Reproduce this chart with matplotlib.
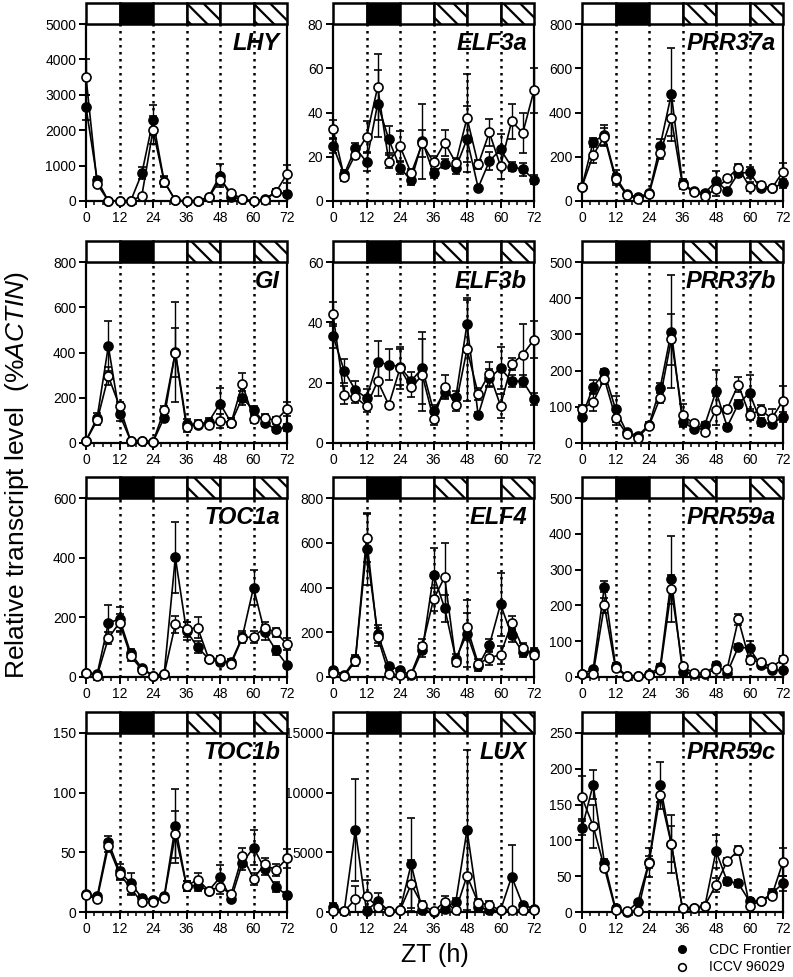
import numpy as np
import matplotlib
matplotlib.use("Agg")
import matplotlib.pyplot as plt
from matplotlib.patches import Rectangle
from matplotlib.lines import Line2D
from matplotlib.ticker import MultipleLocator

plt.rcParams['font.family'] = ['Liberation Sans', 'DejaVu Sans']
plt.rcParams['mathtext.fontset'] = 'custom'
plt.rcParams['mathtext.rm'] = 'Liberation Sans'
plt.rcParams['mathtext.it'] = 'Liberation Sans:italic'
plt.rcParams['hatch.linewidth'] = 1.6

# === DATA (ZT every 4 h) ===
ZT = list(range(0, 73, 4))

LHY_F = [2650, 600, 0, 0, 0, 780, 2280, 550, 20, 0, 0, 120, 720, 100, 50, 0, 50, 260, 200]
LHY_O = [3500, 480, 0, 0, 0, 150, 2000, 550, 20, 0, 0, 100, 600, 230, 50, 0, 30, 250, 760]
LHY_F_ERR = [350, 80, 20, 10, 10, 170, 420, 150, 30, 10, 10, 50, 330, 50, 30, 10, 30, 80, 80]
LHY_O_ERR = [500, 60, 20, 10, 10, 50, 400, 120, 30, 10, 10, 40, 150, 60, 30, 10, 30, 80, 250]

ELF3A_F = [24.8, 12, 24, 17.7, 44, 27.8, 15, 9.3, 27, 12.5, 16.8, 15, 28, 6, 18, 23.3, 15.5, 14.3, 9.7]
ELF3A_O = [32.7, 11, 21, 29, 51.5, 17.7, 24.8, 12.5, 26, 17.5, 26.3, 17.3, 37.5, 16.5, 31, 15.8, 36, 30.8, 50]
ELF3A_F_ERR = [3, 2, 2, 4, 15, 6, 3, 2, 17, 2, 2, 3, 15, 1, 4, 7, 2, 3, 2]
ELF3A_O_ERR = [4, 2, 2, 7, 15, 3, 7, 2, 6, 3, 6, 2, 20, 2, 6, 6, 8, 9, 10]

PRR37A_F = [65, 268, 298, 110, 32, 17, 35, 250, 483, 80, 45, 35, 90, 47, 125, 130, 57, 57, 80]
PRR37A_O = [65, 208, 290, 98, 27, 8, 30, 218, 373, 72, 42, 23, 53, 102, 150, 65, 72, 57, 133]
PRR37A_F_ERR = [10, 15, 45, 30, 8, 5, 8, 30, 210, 20, 8, 8, 45, 8, 15, 25, 10, 10, 20]
PRR37A_O_ERR = [10, 35, 40, 25, 8, 5, 8, 30, 80, 20, 8, 8, 30, 10, 15, 20, 15, 10, 40]

GI_F = [10, 112, 428, 127, 10, 10, 5, 112, 403, 86, 80, 95, 174, 90, 200, 145, 90, 60, 70]
GI_O = [10, 100, 295, 163, 10, 10, 5, 145, 400, 70, 85, 80, 98, 90, 260, 108, 110, 100, 150]
GI_F_ERR = [5, 20, 110, 30, 5, 5, 3, 20, 220, 20, 15, 15, 70, 20, 30, 20, 15, 10, 15]
GI_O_ERR = [5, 20, 40, 20, 5, 5, 3, 20, 110, 20, 15, 15, 30, 20, 50, 20, 20, 15, 30]

ELF3B_F = [35.5, 24, 17.5, 15, 26.8, 26, 25.3, 20.6, 24.8, 10.7, 16.9, 15.2, 39.4, 9.2, 21.4, 24.8, 20.5, 20.5, 14.6]
ELF3B_O = [42.8, 15.8, 15.2, 12.2, 20.5, 12.6, 24.8, 18.4, 22.5, 7.9, 18.6, 12.7, 31, 16.3, 23, 12.4, 26.2, 29.3, 34.3]
ELF3B_F_ERR = [4, 4, 3, 3, 7, 5, 6, 3, 12, 2, 2, 2, 8, 1, 3, 7, 2, 2, 2]
ELF3B_O_ERR = [4, 3, 2, 2, 5, 1, 7, 3, 12, 2, 4, 2, 17, 2, 4, 4, 2, 10, 6]

PRR37B_F = [73, 155, 195, 94, 30, 20, 50, 152, 308, 58, 40, 50, 143, 45, 108, 139, 58, 53, 72]
PRR37B_O = [94, 113, 178, 70, 25, 15, 47, 125, 286, 77, 54, 30, 91, 94, 161, 78, 91, 68, 117]
PRR37B_F_ERR = [10, 20, 10, 35, 5, 5, 8, 15, 157, 15, 8, 8, 60, 8, 10, 50, 10, 8, 15]
PRR37B_O_ERR = [10, 25, 15, 20, 5, 5, 8, 15, 70, 30, 8, 8, 40, 8, 20, 15, 15, 25, 40]

TOC1A_F = [15, 10, 180, 195, 80, 30, 5, 10, 401, 154, 100, 60, 50, 50, 135, 300, 150, 90, 40]
TOC1A_O = [15, 5, 130, 182, 70, 25, 5, 10, 176, 160, 165, 60, 60, 45, 131, 135, 165, 150, 110]
TOC1A_F_ERR = [5, 5, 60, 40, 15, 5, 3, 5, 120, 30, 20, 10, 10, 10, 20, 60, 25, 15, 8]
TOC1A_O_ERR = [5, 5, 20, 30, 15, 5, 3, 5, 30, 25, 35, 10, 10, 10, 15, 20, 20, 15, 20]

ELF4_F = [31, 10, 80, 570, 194, 49, 31, 8, 120, 455, 308, 82, 194, 49, 142, 325, 186, 110, 110]
ELF4_O = [20, 5, 70, 623, 179, 15, 8, 15, 139, 347, 447, 67, 224, 60, 85, 100, 241, 130, 100]
ELF4_F_ERR = [10, 5, 20, 160, 40, 10, 10, 5, 30, 120, 60, 20, 150, 20, 30, 140, 30, 20, 20]
ELF4_O_ERR = [10, 5, 20, 110, 40, 10, 10, 5, 30, 50, 150, 20, 60, 20, 30, 40, 30, 20, 20]

PRR59A_F = [9, 21, 252, 31, 3, 3, 7, 28, 275, 14, 9, 9, 33, 12, 84, 80, 33, 19, 19]
PRR59A_O = [9, 9, 200, 25, 3, 3, 5, 19, 245, 31, 10, 10, 21, 23, 161, 47, 42, 28, 50]
PRR59A_F_ERR = [3, 5, 15, 8, 2, 2, 2, 8, 120, 5, 3, 3, 8, 3, 8, 20, 5, 5, 5]
PRR59A_O_ERR = [3, 3, 20, 8, 2, 2, 2, 5, 40, 5, 3, 3, 5, 5, 15, 10, 5, 5, 10]

TOC1B_F = [15, 13, 59, 34, 24, 12, 10, 13, 72, 22, 22, 18, 29, 11, 41, 54, 36, 21, 14]
TOC1B_O = [14, 11, 55, 32, 20, 8, 8, 12, 65, 22, 27, 18, 21, 15, 47, 28, 40, 35, 45]
TOC1B_F_ERR = [2, 2, 5, 6, 9, 2, 2, 2, 31, 4, 4, 2, 10, 2, 6, 15, 5, 4, 3]
TOC1B_O_ERR = [2, 2, 5, 5, 6, 2, 2, 2, 20, 4, 6, 2, 6, 3, 7, 5, 5, 5, 8]

LUX_F = [430, 60, 6870, 90, 930, 90, 145, 4000, 145, 0, 290, 870, 6870, 430, 145, 145, 2960, 580, 290]
LUX_O = [100, 50, 1070, 1300, 430, 90, 145, 2320, 580, 50, 870, 145, 3040, 780, 580, 145, 145, 145, 200]
LUX_F_ERR = [300, 100, 4250, 300, 700, 100, 100, 3900, 200, 100, 200, 300, 6700, 300, 100, 100, 2650, 200, 150]
LUX_O_ERR = [300, 100, 1100, 1400, 300, 100, 100, 2000, 300, 100, 500, 100, 4000, 300, 300, 100, 100, 100, 150]

PRR59C_F = [117, 178, 69, 5, 0, 14, 70, 177, 95, 5, 6, 8, 85, 43, 40, 15, 15, 26, 40]
PRR59C_O = [160, 120, 62, 3, 1, 1, 69, 163, 95, 5, 6, 9, 38, 71, 86, 9, 15, 23, 70]
PRR59C_F_ERR = [10, 20, 5, 3, 2, 3, 8, 33, 40, 3, 3, 3, 23, 5, 5, 5, 3, 6, 10]
PRR59C_O_ERR = [30, 30, 5, 3, 2, 2, 20, 10, 25, 3, 3, 3, 10, 5, 6, 3, 3, 5, 20]

GENES = ["LHY", "ELF3a", "PRR37a", "GI", "ELF3b", "PRR37b",
         "TOC1a", "ELF4", "PRR59a", "TOC1b", "LUX", "PRR59c"]
FRONTIER = [LHY_F, ELF3A_F, PRR37A_F, GI_F, ELF3B_F, PRR37B_F,
            TOC1A_F, ELF4_F, PRR59A_F, TOC1B_F, LUX_F, PRR59C_F]
ICCV = [LHY_O, ELF3A_O, PRR37A_O, GI_O, ELF3B_O, PRR37B_O,
        TOC1A_O, ELF4_O, PRR59A_O, TOC1B_O, LUX_O, PRR59C_O]
FRONTIER_ERR = [LHY_F_ERR, ELF3A_F_ERR, PRR37A_F_ERR, GI_F_ERR, ELF3B_F_ERR, PRR37B_F_ERR,
                TOC1A_F_ERR, ELF4_F_ERR, PRR59A_F_ERR, TOC1B_F_ERR, LUX_F_ERR, PRR59C_F_ERR]
ICCV_ERR = [LHY_O_ERR, ELF3A_O_ERR, PRR37A_O_ERR, GI_O_ERR, ELF3B_O_ERR, PRR37B_O_ERR,
            TOC1A_O_ERR, ELF4_O_ERR, PRR59A_O_ERR, TOC1B_O_ERR, LUX_O_ERR, PRR59C_O_ERR]
YMAX = [5000, 80, 800, 800, 60, 500, 600, 800, 500, 150, 15000, 250]
YSTEP = [1000, 20, 200, 200, 20, 100, 200, 200, 100, 50, 5000, 50]

# light regime bar: white = light, black = dark, hatched = subjective night
REGIME = ["light", "dark", "light", "subj", "light", "subj"]

# === LAYOUT (pixels) ===
W, H = 793, 977
COL_LEFT = [86, 333, 582]
COL_W = 201
ROW_TOP = [24, 262, 498, 733]
ROW_BOT = [201, 443, 677, 912]
BAR_H = 21

fig = plt.figure(figsize=(W / 100, H / 100), dpi=100)


def draw_series(ax, vals, err, filled, z):
    vals = np.array(vals, dtype=float)
    err = np.array(err, dtype=float)
    lo = np.minimum(err, vals)
    eb = ax.errorbar(ZT, vals, yerr=[lo, err], fmt='-o', color='k', lw=1.2,
                     ms=6.5, mec='k', mew=1.2, mfc='k' if filled else 'white',
                     elinewidth=1.0, capsize=3, capthick=1.0, zorder=z)
    eb[0].set_clip_on(False)
    for a in list(eb[1]) + list(eb[2]):
        a.set_clip_on(False)


for i, gene in enumerate(GENES):
    r, c = divmod(i, 3)
    x0 = COL_LEFT[c] / W
    ax = fig.add_axes([x0, 1 - ROW_BOT[r] / H, COL_W / W, (ROW_BOT[r] - ROW_TOP[r]) / H])
    hax = fig.add_axes([x0, 1 - ROW_TOP[r] / H, COL_W / W, BAR_H / H])

    # header bar
    hax.set_xlim(0, 72)
    hax.set_ylim(0, 1)
    hax.axis('off')
    for k, kind in enumerate(REGIME):
        fc = 'black' if kind == "dark" else 'white'
        hatch = '\\\\' if kind == "subj" else None
        hax.add_patch(Rectangle((12 * k, 0), 12, 1, facecolor=fc, edgecolor='black',
                                hatch=hatch, lw=1.8, clip_on=False))

    ymax, step = YMAX[i], YSTEP[i]
    ax.set_xlim(0, 72)
    ax.set_ylim(0, ymax)
    ax.vlines([12, 24, 36, 48, 60], 0, ymax, colors='k', linestyles=(0, (1, 1.8)), lw=1.8, zorder=1)

    draw_series(ax, FRONTIER[i], FRONTIER_ERR[i], True, 3)
    draw_series(ax, ICCV[i], ICCV_ERR[i], False, 4)

    ax.set_xticks([0, 12, 24, 36, 48, 60, 72])
    ax.xaxis.set_minor_locator(MultipleLocator(3))
    ax.set_yticks(np.arange(0, ymax + step / 2, step))
    ax.set_yticklabels([f"{int(v)}" for v in np.arange(0, ymax + step / 2, step)])
    ax.tick_params(which='major', direction='out', length=5, width=1.4, labelsize=10, pad=2)
    ax.tick_params(which='minor', direction='out', length=3, width=1.1)
    ax.tick_params(axis='y', which='minor', left=False)
    for s in ax.spines.values():
        s.set_linewidth(1.6)

    ax.text(0.965, 0.955, gene, transform=ax.transAxes, ha='right', va='top',
            fontsize=17, fontweight='bold', fontstyle='italic', zorder=6)

fig.text(0.021, 0.514, r"Relative transcript level  (%$\mathit{ACTIN}$)",
         rotation=90, ha='center', va='center', fontsize=19)
fig.text(0.548, 1 - 955 / H, "ZT (h)", ha='center', va='center', fontsize=18)

handles = [Line2D([], [], marker='o', ls='none', mfc='k', mec='k', ms=5.5),
           Line2D([], [], marker='o', ls='none', mfc='white', mec='k', mew=1.2, ms=5.5)]
fig.legend(handles, ["CDC Frontier", "ICCV 96029"], loc='upper left',
           bbox_to_anchor=(674 / W, 1 - 943 / H), frameon=False, fontsize=10,
           handlelength=1.2, handletextpad=1.3, labelspacing=0.25,
           borderpad=0, borderaxespad=0)

fig.savefig("out.png", dpi=100)
